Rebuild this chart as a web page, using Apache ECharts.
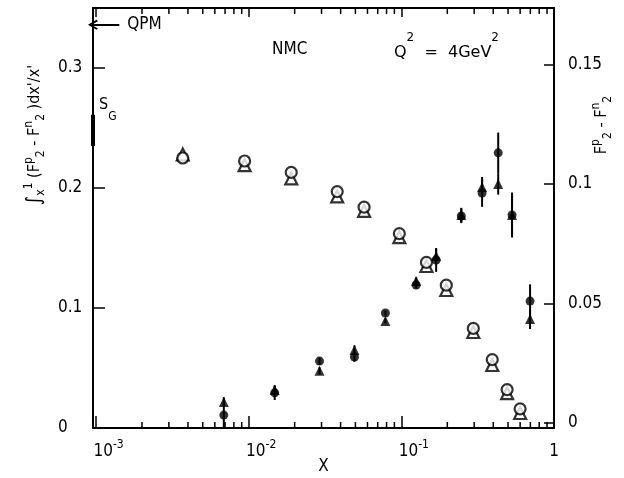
<!DOCTYPE html>
<html><head><meta charset="utf-8">
<script src="https://cdn.jsdelivr.net/npm/echarts@6/dist/echarts.min.js"></script>
<style>html,body{margin:0;padding:0;background:#fff}#c{width:624px;height:478px}</style>
</head><body><div id="c"></div>
<script>
const FONT = "'DejaVu Sans Condensed','Liberation Sans Narrow','Roboto',sans-serif";
const FONT_WIDE = "'DejaVu Sans',sans-serif";

// integral  ∫_x^1 (F2p - F2n) dx'/x'   (left axis)
const xIntegral        = [0.0037, 0.0094, 0.019, 0.038, 0.057, 0.097, 0.146, 0.197, 0.296, 0.394, 0.493, 0.600];
const integralCircle   = [0.225, 0.2225, 0.213, 0.197, 0.184, 0.162, 0.138, 0.119, 0.083, 0.057, 0.032, 0.016];
const integralTriangle = [0.228, 0.219, 0.208, 0.193, 0.181, 0.159, 0.135, 0.115, 0.080, 0.0525, 0.029, 0.0125];

// F2p - F2n   (right axis)
const xDiff           = [0.00687, 0.0148, 0.0291, 0.0493, 0.0786, 0.125, 0.169, 0.247, 0.338, 0.431, 0.531, 0.697];
const diffCircle      = [0.0033, 0.0126, 0.0259, 0.0276, 0.046, 0.0577, 0.0682, 0.0866, 0.0962, 0.113, 0.087, 0.051];
const diffCircleErr   = [0.005, 0.003, 0.0015, 0.002, 0.001, 0.0015, 0.005, 0.003, 0.0058, 0.0085, 0.0094, 0.007];
const diffTriangle    = [0.0088, 0.0138, 0.0218, 0.0305, 0.0427, 0.0594, 0.0699, 0.087, 0.0987, 0.100, 0.087, 0.0435];
const diffTriangleErr = [0.002, 0.002, 0.0015, 0.002, 0.001, 0.0015, 0.003, 0.003, 0.0042, 0.0045, 0.009, 0.0042];

// axis ranges and ticks
const xRange = [0.000955, 1];
const leftRange = [0, 0.35];
const rightRange = [-0.0021, 0.1736];
const leftTicks  = [0, 0.1, 0.2, 0.3];
const rightTicks = [0, 0.05, 0.1, 0.15];
const xMinorTicks = [0.002, 0.003, 0.004, 0.005, 0.006, 0.007, 0.008, 0.009,
                     0.02, 0.03, 0.04, 0.05, 0.06, 0.07, 0.08, 0.09,
                     0.2, 0.3, 0.4, 0.5, 0.6, 0.7, 0.8, 0.9];

// reference values
const qpmValue = 0.336;
const qpmArrowEnd = 0.00142;
const sgRange = [0.235, 0.261];

const chart = echarts.init(document.getElementById('c'), null, {renderer: 'canvas'});
const black = '#000';

function errRender(params, api) {
  const x = api.value(0), y = api.value(1), e = api.value(2);
  const p1 = api.coord([x, y - e]), p2 = api.coord([x, y + e]);
  return {type: 'line', shape: {x1: p1[0], y1: p1[1], x2: p2[0], y2: p2[1]},
          style: {stroke: black, lineWidth: 2}};
}
function minorRender(params, api) {
  const v = api.value(0);
  const b = api.coord([v, leftRange[0]]);
  const t = api.coord([v, leftRange[1]]);
  return {type: 'group', children: [
    {type: 'line', shape: {x1: b[0], y1: b[1], x2: b[0], y2: b[1] - 6}, style: {stroke: black, lineWidth: 1.5}},
    {type: 'line', shape: {x1: t[0], y1: t[1], x2: t[0], y2: t[1] + 6}, style: {stroke: black, lineWidth: 1.5}}
  ]};
}

const supStyle = {fontSize: 12, lineHeight: 11, verticalAlign: 'top', fontFamily: FONT, color: black};
const subStyle = {fontSize: 12, lineHeight: 11, verticalAlign: 'bottom', fontFamily: FONT, color: black};

function xLabel(v) {
  const l = Math.log10(v);
  const e = Math.round(l);
  if (Math.abs(l - e) > 0.005) return '';
  if (e === 0) return '{m|1}';
  return '{sp| }{m|10}{s|' + e + '}';
}

const option = {
  animation: false,
  backgroundColor: '#fff',
  textStyle: {fontFamily: FONT, color: black},
  grid: {left: 93, right: 70, top: 8, bottom: 50, containLabel: false, outerBoundsMode: 'none'},
  xAxis: [{
    type: 'log', logBase: 10, min: xRange[0], max: xRange[1], position: 'bottom',
    axisLine: {show: true, onZero: false, lineStyle: {color: black, width: 2}},
    axisTick: {show: true, inside: true, length: 12, lineStyle: {color: black, width: 1.5}},
    splitLine: {show: false},
    axisLabel: {
      margin: 11, color: black, showMinLabel: true, showMaxLabel: true,
      formatter: xLabel,
      rich: {
        sp: {width: 25, fontSize: 10, lineHeight: 26},
        m: {fontSize: 17, lineHeight: 26, verticalAlign: 'middle', fontFamily: FONT, color: black},
        s: {fontSize: 12, lineHeight: 10, verticalAlign: 'top', fontFamily: FONT, color: black}
      }
    },
    name: 'X', nameLocation: 'middle', nameGap: 30, nameMoveOverlap: false,
    nameTextStyle: {fontSize: 17, color: black, fontFamily: FONT}
  }, {
    type: 'log', logBase: 10, min: xRange[0], max: xRange[1], position: 'top',
    axisLine: {show: true, onZero: false, lineStyle: {color: black, width: 2}},
    axisTick: {show: true, inside: true, length: 9, lineStyle: {color: black, width: 1.5}},
    axisLabel: {show: false}, splitLine: {show: false}
  }],
  yAxis: [{
    type: 'value', min: leftRange[0], max: leftRange[1], position: 'left',
    axisLine: {show: true, onZero: false, lineStyle: {color: black, width: 2}},
    axisTick: {show: true, inside: true, length: 12, customValues: leftTicks, lineStyle: {color: black, width: 1.5}},
    axisLabel: {customValues: leftTicks, align: 'left', margin: 35, fontSize: 17, color: black, fontFamily: FONT},
    splitLine: {show: false},
    name: '{sp| }{int|∫}{sub|x}{sup|1}{m| (F}{sup|p}{sub|2}{m| - F}{sup|n}{sub|2}{m| )dx\'/x\'}',
    nameLocation: 'middle', nameRotate: 90, nameGap: 46, nameMoveOverlap: false,
    nameTextStyle: {
      rich: {
        sp: {width: 166, fontSize: 10, lineHeight: 24},
        int: {fontSize: 20, lineHeight: 24, verticalAlign: 'middle', fontFamily: FONT, color: black},
        m: {fontSize: 16, lineHeight: 24, verticalAlign: 'middle', fontFamily: FONT, color: black},
        sup: supStyle, sub: subStyle
      }
    }
  }, {
    type: 'value', min: rightRange[0], max: rightRange[1], position: 'right',
    axisLine: {show: true, onZero: false, lineStyle: {color: black, width: 2}},
    axisTick: {show: true, inside: true, length: 10, customValues: rightTicks, lineStyle: {color: black, width: 1.5}},
    axisLabel: {customValues: rightTicks, align: 'left', margin: 14, fontSize: 17, color: black, fontFamily: FONT},
    splitLine: {show: false},
    name: '{sp| }{m|F}{sup|p}{sub|2}{m| - F}{sup|n}{sub|2}',
    nameLocation: 'middle', nameRotate: 90, nameGap: 36, nameMoveOverlap: false,
    nameTextStyle: {
      rich: {
        sp: {width: 186, fontSize: 10, lineHeight: 24},
        m: {fontSize: 16, lineHeight: 24, verticalAlign: 'middle', fontFamily: FONT, color: black},
        sup: supStyle, sub: subStyle
      }
    }
  }],
  series: [
    {
      type: 'custom', name: 'minor ticks', xAxisIndex: 0, yAxisIndex: 0, silent: true,
      renderItem: minorRender, data: xMinorTicks.map(v => [v, 0]), z: 1
    },
    {
      type: 'line', name: 'S_G', xAxisIndex: 0, yAxisIndex: 0, silent: true, clip: false,
      symbol: 'none', lineStyle: {color: black, width: 4},
      data: [[xRange[0], sgRange[0]], [xRange[0], sgRange[1]]], z: 3
    },
    {
      type: 'scatter', name: 'integral triangle', xAxisIndex: 0, yAxisIndex: 0,
      symbol: 'triangle', symbolSize: 12,
      itemStyle: {color: '#fff', borderColor: black, borderWidth: 2.2},
      data: xIntegral.map((x, i) => [x, integralTriangle[i]]), z: 4
    },
    {
      type: 'scatter', name: 'integral circle', xAxisIndex: 0, yAxisIndex: 0,
      symbol: 'circle', symbolSize: 11,
      itemStyle: {color: '#fff', borderColor: black, borderWidth: 2.2},
      data: xIntegral.map((x, i) => [x, integralCircle[i]]), z: 5,
      markLine: {
        silent: true, animation: false,
        symbol: ['path://M5,0 L10,8 L8.6,9.4 L5,3.2 L1.4,9.4 L0,8 Z', 'none'], symbolSize: [10, 10],
        lineStyle: {color: black, width: 2, type: 'solid'},
        label: {show: true, position: 'end', formatter: 'QPM', fontSize: 17, color: black, fontFamily: FONT, distance: 8},
        data: [[{coord: [xRange[0], qpmValue]}, {coord: [qpmArrowEnd, qpmValue]}]]
      }
    },
    {
      type: 'custom', name: 'triangle errors', xAxisIndex: 0, yAxisIndex: 1, silent: true,
      renderItem: errRender, encode: {x: 0, y: 1},
      data: xDiff.map((x, i) => [x, diffTriangle[i], diffTriangleErr[i]]), z: 6
    },
    {
      type: 'custom', name: 'circle errors', xAxisIndex: 0, yAxisIndex: 1, silent: true,
      renderItem: errRender, encode: {x: 0, y: 1},
      data: xDiff.map((x, i) => [x, diffCircle[i], diffCircleErr[i]]), z: 6
    },
    {
      type: 'scatter', name: 'diff triangle', xAxisIndex: 0, yAxisIndex: 1,
      symbol: 'triangle', symbolSize: 10, itemStyle: {color: black},
      data: xDiff.map((x, i) => [x, diffTriangle[i]]), z: 7
    },
    {
      type: 'scatter', name: 'diff circle', xAxisIndex: 0, yAxisIndex: 1,
      symbol: 'circle', symbolSize: 9, itemStyle: {color: black},
      data: xDiff.map((x, i) => [x, diffCircle[i]]), z: 8
    }
  ],
  graphic: [
    {type: 'text', left: 272, top: 41, style: {text: 'NMC', font: '17px ' + FONT, fill: black}},
    {type: 'text', left: 394, top: 32, style: {
      text: '{m|Q}{s|2}{m|  =  4GeV}{s|2}',
      rich: {
        m: {fontSize: 16, lineHeight: 29, verticalAlign: 'bottom', fontFamily: FONT_WIDE, color: black},
        s: {fontSize: 12, lineHeight: 12, verticalAlign: 'top', fontFamily: FONT_WIDE, color: black}
      }
    }},
    {type: 'text', left: 99, top: 97, style: {
      text: '{m|S}{s|G}',
      rich: {
        m: {fontSize: 16, lineHeight: 26, verticalAlign: 'top', fontFamily: FONT, color: black},
        s: {fontSize: 12, lineHeight: 12, verticalAlign: 'bottom', fontFamily: FONT, color: black}
      }
    }}
  ]
};
chart.setOption(option);
</script></body></html>
